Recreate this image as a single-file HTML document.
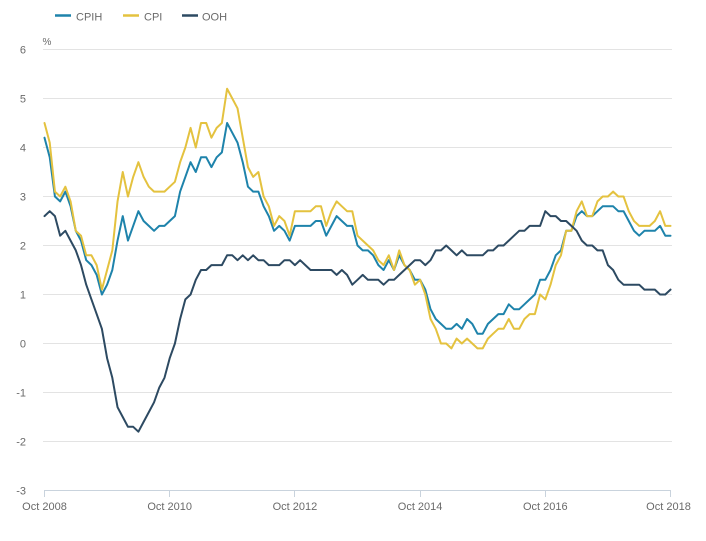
<!DOCTYPE html>
<html>
<head>
<meta charset="utf-8">
<style>
  html, body { margin: 0; padding: 0; background: #ffffff; }
  svg { display: block; }
  text { font-family: "Liberation Sans", "DejaVu Sans", sans-serif; fill: #6a6a6a; }
</style>
</head>
<body>
<svg width="706" height="541" viewBox="0 0 706 541" xmlns="http://www.w3.org/2000/svg">
  <rect x="0" y="0" width="706" height="541" fill="#ffffff"/>

  <!-- Legend -->
  <line x1="55" y1="15.5" x2="71" y2="15.5" stroke="#1e83ab" stroke-width="2.5"/>
  <text x="76" y="20.5" font-size="11">CPIH</text>
  <line x1="123" y1="15.5" x2="139" y2="15.5" stroke="#e4c23f" stroke-width="2.5"/>
  <text x="144" y="20.5" font-size="11">CPI</text>
  <line x1="182" y1="15.5" x2="198" y2="15.5" stroke="#2d4a62" stroke-width="2.5"/>
  <text x="202" y="20.5" font-size="11">OOH</text>

  <!-- Gridlines -->
  <g stroke="#e3e3e3" stroke-width="1">
    <line x1="43" y1="49.5" x2="672" y2="49.5"/>
    <line x1="43" y1="98.5" x2="672" y2="98.5"/>
    <line x1="43" y1="147.5" x2="672" y2="147.5"/>
    <line x1="43" y1="196.5" x2="672" y2="196.5"/>
    <line x1="43" y1="245.5" x2="672" y2="245.5"/>
    <line x1="43" y1="294.5" x2="672" y2="294.5"/>
    <line x1="43" y1="343.5" x2="672" y2="343.5"/>
    <line x1="43" y1="392.5" x2="672" y2="392.5"/>
    <line x1="43" y1="441.5" x2="672" y2="441.5"/>
  </g>

  <!-- Axis line and ticks -->
  <g stroke="#c9d3dd" stroke-width="1">
    <line x1="44" y1="490.5" x2="671" y2="490.5"/>
    <line x1="44.5" y1="490" x2="44.5" y2="497"/>
    <line x1="169.5" y1="490" x2="169.5" y2="497"/>
    <line x1="294.5" y1="490" x2="294.5" y2="497"/>
    <line x1="420.5" y1="490" x2="420.5" y2="497"/>
    <line x1="545.5" y1="490" x2="545.5" y2="497"/>
    <line x1="670.5" y1="490" x2="670.5" y2="497"/>
  </g>

  <!-- Y labels -->
  <g font-size="11" text-anchor="end">
    <text x="26" y="53.5">6</text>
    <text x="26" y="102.5">5</text>
    <text x="26" y="151.5">4</text>
    <text x="26" y="200.5">3</text>
    <text x="26" y="249.5">2</text>
    <text x="26" y="298.5">1</text>
    <text x="26" y="347.5">0</text>
    <text x="26" y="396.5">-1</text>
    <text x="26" y="445.5">-2</text>
    <text x="26" y="494.5">-3</text>
  </g>
  <text x="42.5" y="45" font-size="10">%</text>

  <!-- X labels -->
  <g font-size="11" text-anchor="middle">
    <text x="44.5" y="510">Oct 2008</text>
    <text x="169.7" y="510">Oct 2010</text>
    <text x="294.9" y="510">Oct 2012</text>
    <text x="420.1" y="510">Oct 2014</text>
    <text x="545.3" y="510">Oct 2016</text>
    <text x="668.5" y="510">Oct 2018</text>
  </g>

  <!-- Series -->
  <g transform="translate(44.5,343.5) scale(5.2167,-49)" fill="none" stroke-linejoin="round" stroke-linecap="round">
    <polyline vector-effect="non-scaling-stroke" stroke="#1e83ab" stroke-width="2"
      points="0,4.2 1,3.8 2,3.0 3,2.9 4,3.1 5,2.8 6,2.3 7,2.1 8,1.7 9,1.6 10,1.4 11,1.0 12,1.2 13,1.5 14,2.1 15,2.6 16,2.1 17,2.4 18,2.7 19,2.5 20,2.4 21,2.3 22,2.4 23,2.4 24,2.5 25,2.6 26,3.1 27,3.4 28,3.7 29,3.5 30,3.8 31,3.8 32,3.6 33,3.8 34,3.9 35,4.5 36,4.3 37,4.1 38,3.7 39,3.2 40,3.1 41,3.1 42,2.8 43,2.6 44,2.3 45,2.4 46,2.3 47,2.1 48,2.4 49,2.4 50,2.4 51,2.4 52,2.5 53,2.5 54,2.2 55,2.4 56,2.6 57,2.5 58,2.4 59,2.4 60,2.0 61,1.9 62,1.9 63,1.8 64,1.6 65,1.5 66,1.7 67,1.5 68,1.8 69,1.6 70,1.5 71,1.3 72,1.3 73,1.1 74,0.7 75,0.5 76,0.4 77,0.3 78,0.3 79,0.4 80,0.3 81,0.5 82,0.4 83,0.2 84,0.2 85,0.4 86,0.5 87,0.6 88,0.6 89,0.8 90,0.7 91,0.7 92,0.8 93,0.9 94,1.0 95,1.3 96,1.3 97,1.5 98,1.8 99,1.9 100,2.3 101,2.3 102,2.6 103,2.7 104,2.6 105,2.6 106,2.7 107,2.8 108,2.8 109,2.8 110,2.7 111,2.7 112,2.5 113,2.3 114,2.2 115,2.3 116,2.3 117,2.3 118,2.4 119,2.2 120,2.2"/>
    <polyline vector-effect="non-scaling-stroke" stroke="#e4c23f" stroke-width="2"
      points="0,4.5 1,4.1 2,3.1 3,3.0 4,3.2 5,2.9 6,2.3 7,2.2 8,1.8 9,1.8 10,1.6 11,1.1 12,1.5 13,1.9 14,2.9 15,3.5 16,3.0 17,3.4 18,3.7 19,3.4 20,3.2 21,3.1 22,3.1 23,3.1 24,3.2 25,3.3 26,3.7 27,4.0 28,4.4 29,4.0 30,4.5 31,4.5 32,4.2 33,4.4 34,4.5 35,5.2 36,5.0 37,4.8 38,4.2 39,3.6 40,3.4 41,3.5 42,3.0 43,2.8 44,2.4 45,2.6 46,2.5 47,2.2 48,2.7 49,2.7 50,2.7 51,2.7 52,2.8 53,2.8 54,2.4 55,2.7 56,2.9 57,2.8 58,2.7 59,2.7 60,2.2 61,2.1 62,2.0 63,1.9 64,1.7 65,1.6 66,1.8 67,1.5 68,1.9 69,1.6 70,1.5 71,1.2 72,1.3 73,1.0 74,0.5 75,0.3 76,0.0 77,0.0 78,-0.1 79,0.1 80,0.0 81,0.1 82,0.0 83,-0.1 84,-0.1 85,0.1 86,0.2 87,0.3 88,0.3 89,0.5 90,0.3 91,0.3 92,0.5 93,0.6 94,0.6 95,1.0 96,0.9 97,1.2 98,1.6 99,1.8 100,2.3 101,2.3 102,2.7 103,2.9 104,2.6 105,2.6 106,2.9 107,3.0 108,3.0 109,3.1 110,3.0 111,3.0 112,2.7 113,2.5 114,2.4 115,2.4 116,2.4 117,2.5 118,2.7 119,2.4 120,2.4"/>
    <polyline vector-effect="non-scaling-stroke" stroke="#2d4a62" stroke-width="2"
      points="0,2.6 1,2.7 2,2.6 3,2.2 4,2.3 5,2.1 6,1.9 7,1.6 8,1.2 9,0.9 10,0.6 11,0.3 12,-0.3 13,-0.7 14,-1.3 15,-1.5 16,-1.7 17,-1.7 18,-1.8 19,-1.6 20,-1.4 21,-1.2 22,-0.9 23,-0.7 24,-0.3 25,0.0 26,0.5 27,0.9 28,1.0 29,1.3 30,1.5 31,1.5 32,1.6 33,1.6 34,1.6 35,1.8 36,1.8 37,1.7 38,1.8 39,1.7 40,1.8 41,1.7 42,1.7 43,1.6 44,1.6 45,1.6 46,1.7 47,1.7 48,1.6 49,1.7 50,1.6 51,1.5 52,1.5 53,1.5 54,1.5 55,1.5 56,1.4 57,1.5 58,1.4 59,1.2 60,1.3 61,1.4 62,1.3 63,1.3 64,1.3 65,1.2 66,1.3 67,1.3 68,1.4 69,1.5 70,1.6 71,1.7 72,1.7 73,1.6 74,1.7 75,1.9 76,1.9 77,2.0 78,1.9 79,1.8 80,1.9 81,1.8 82,1.8 83,1.8 84,1.8 85,1.9 86,1.9 87,2.0 88,2.0 89,2.1 90,2.2 91,2.3 92,2.3 93,2.4 94,2.4 95,2.4 96,2.7 97,2.6 98,2.6 99,2.5 100,2.5 101,2.4 102,2.3 103,2.1 104,2.0 105,2.0 106,1.9 107,1.9 108,1.6 109,1.5 110,1.3 111,1.2 112,1.2 113,1.2 114,1.2 115,1.1 116,1.1 117,1.1 118,1.0 119,1.0 120,1.1"/>
  </g>
</svg>
</body>
</html>
